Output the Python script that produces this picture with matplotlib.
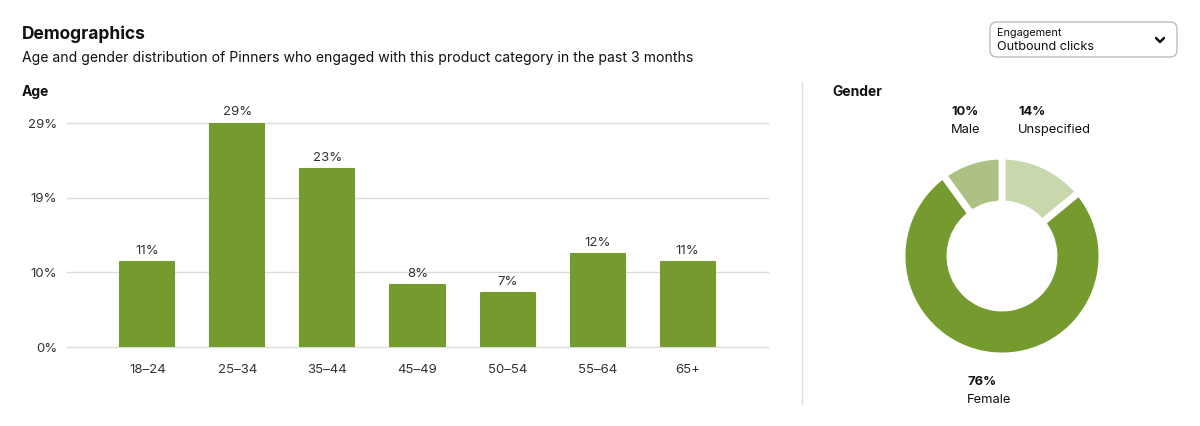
import matplotlib
matplotlib.use("Agg")
import matplotlib.pyplot as plt
from matplotlib.patches import FancyBboxPatch
import numpy as np

plt.rcParams["font.family"] = ["Inter", "DejaVu Sans"]

# data
age_groups = ["18\u201324", "25\u201334", "35\u201344", "45\u201349", "50\u201354", "55\u201364", "65+"]
age_share = [11, 29, 23, 8, 7, 12, 11]

gender_names = ["Unspecified", "Female", "Male"]
gender_share = [14, 76, 10]

GREEN = "#759A2E"
gender_colors = ["#C9D7AC", GREEN, "#ADC282"]
GRID = "#DCDCDA"
TXT = "#333333"

W, H = 1200, 426
fig = plt.figure(figsize=(W / 100, H / 100), dpi=100)

# bar chart, placed in pixel terms
def px_box(x0, y0, x1, y1):
    return [x0 / W, 1 - y1 / H, (x1 - x0) / W, (y1 - y0) / H]

ax = fig.add_axes(px_box(67, 123, 768, 347))
x = np.arange(len(age_groups))
bars = ax.bar(x, age_share, width=0.6, color=GREEN, edgecolor=GREEN,
              linewidth=1.5, joinstyle="round", zorder=3)
ymax = max(age_share)
ax.set_ylim(0, ymax)
ax.set_xlim(-0.894, len(age_groups) - 1 + 0.894)
ticks = [0, ymax / 3, 2 * ymax / 3, ymax]
ax.set_yticks(ticks)
ax.set_yticklabels([f"{round(t)}%" for t in ticks])
ax.set_xticks(x)
ax.set_xticklabels(age_groups)
ax.grid(axis="y", color=GRID, linewidth=1, zorder=0)
for gl in ax.get_ygridlines():
    gl.set_clip_on(False)
for s in ax.spines.values():
    s.set_visible(False)
ax.tick_params(length=0, labelsize=9.5, colors=TXT)
ax.tick_params(axis="y", pad=7)
ax.tick_params(axis="x", pad=12)
for b, v in zip(bars, age_share):
    ax.annotate(f"{v}%", (b.get_x() + b.get_width() / 2, v), xytext=(0, 3.5),
                textcoords="offset points", ha="center", va="bottom",
                fontsize=9.5, color=TXT, annotation_clip=False)

# donut
cx, cy, r = 1002, 256, 110
dax = fig.add_axes(px_box(cx - r, cy - r, cx + r, cy + r))
dax.pie(gender_share, colors=gender_colors, startangle=90, counterclock=False,
        radius=1.0, wedgeprops=dict(width=0.48, edgecolor="white", linewidth=5))
dax.set_xlim(-1.1, 1.1)
dax.set_ylim(-1.1, 1.1)
dax.set_aspect("equal")
dax.axis("off")

# overlay for header text and decorations
ov = fig.add_axes([0, 0, 1, 1], zorder=-1)
ov.set_xlim(0, W)
ov.set_ylim(H, 0)
ov.axis("off")

ov.text(22, 34, "Demographics", fontsize=12.5, fontweight="bold", color="#111111", va="center")
ov.text(22, 58, "Age and gender distribution of Pinners who engaged with this product category in the past 3 months",
        fontsize=10.1, color="#111111", va="center")
ov.text(22, 92, "Age", fontsize=10, fontweight="bold", color="#111111", va="center")
ov.text(832, 92, "Gender", fontsize=10, fontweight="bold", color="#111111", va="center")
ov.plot([802, 802], [82, 404], color=GRID, linewidth=1)

# dropdown
ov.add_patch(FancyBboxPatch((990, 22), 187, 35, boxstyle="round,pad=0,rounding_size=7",
                            facecolor="white", edgecolor="#BDBDBD", linewidth=1))
ov.text(997, 33, "Engagement", fontsize=7.8, color="#111111", va="center")
ov.text(997, 47, "Outbound clicks", fontsize=9.1, color="#111111", va="center")
ov.plot([1156, 1160, 1164], [38, 42, 38], color="#111111", linewidth=1.8,
        solid_capstyle="round", solid_joinstyle="round")

# gender labels
label_pos = {"Male": (951, 112), "Unspecified": (1018, 112), "Female": (967, 382)}
for name, share in zip(gender_names, gender_share):
    lx, ly = label_pos[name]
    ov.text(lx, ly, f"{share}%", fontsize=9.3, fontweight="bold", color="#111111", va="center")
    ov.text(lx, ly + 18, name, fontsize=9.3, color="#111111", va="center")

fig.savefig("out.png", dpi=100)
